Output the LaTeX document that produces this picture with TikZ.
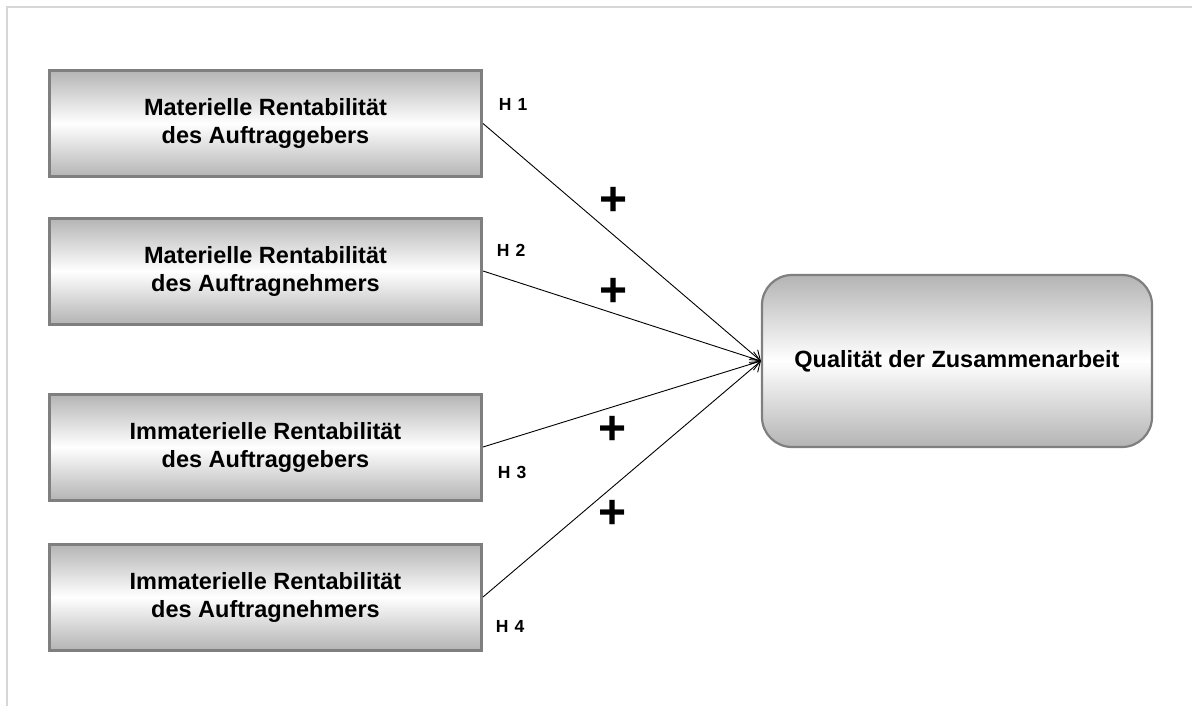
\documentclass[tikz,border=0pt]{standalone}
\usepackage{fontspec}
\setmainfont{Liberation Sans}
\usetikzlibrary{arrows.meta,shapes}

\definecolor{boxline}{HTML}{7F7F7F}
\definecolor{boxshade}{HTML}{B4B4B4}
\definecolor{framegray}{HTML}{D6D6D6}

\tikzset{
  factor/.style={draw=boxline, line width=3pt, top color=boxshade, bottom color=boxshade,
    middle color=white, minimum width=432pt, minimum height=106pt, align=center,
    font=\fontsize{23.5}{28}\selectfont\bfseries},
  outcome/.style={factor, rounded corners=30pt, line width=2.2pt, minimum width=390pt,
    minimum height=172pt},
  hyp/.style={font=\fontsize{17.5}{20}\selectfont\bfseries},
  plusmark/.style={font=\fontsize{48}{48}\selectfont\bfseries},
  link/.style={->, line width=0.9pt, >={Straight Barb[length=9pt,width=13pt,line width=0.9pt]}}
}

\begin{document}
\begin{tikzpicture}[x=1pt,y=-1pt]
\tikzstyle{every node}+=[node distance=147.5pt]
\useasboundingbox (0,0) rectangle (1192,706);
\draw[framegray, line width=2pt] (7,706) -- (7,7) -- (1192,7);

\node[factor] (mat_ag) at (265.5,123.5) {Materielle Rentabilität\\des Auftraggebers};
\node[factor] (mat_an) [below of=mat_ag] {Materielle Rentabilität\\des Auftragnehmers};
\node[factor] (imm_ag) [below of=mat_an,node distance=176pt] {Immaterielle Rentabilität\\des Auftraggebers};
\node[factor] (imm_an) [below of=imm_ag,node distance=150pt] {Immaterielle Rentabilität\\des Auftragnehmers};
\node[outcome] (quality) at (957,361) {Qualität der Zusammenarbeit};

\node[hyp] (h1) at (513,104) {H\hspace{0.35em}1};
\node[hyp] (h2) at (511,250) {H\hspace{0.35em}2};
\node[hyp] (h3) at (512,472) {H\hspace{0.35em}3};
\node[hyp] (h4) at (510,626) {H\hspace{0.35em}4};

\node[plusmark] (p1) at (614,201) {+};
\node[plusmark] (p2) at (614,292) {+};
\node[plusmark] (p3) at (613,430) {+};
\node[plusmark] (p4) at (613,514) {+};

\draw[link] (mat_ag.east) -- (quality.west);
\draw[link] (mat_an.east) -- (quality.west);
\draw[link] (imm_ag.east) -- (quality.west);
\draw[link] (imm_an.east) -- (quality.west);
\end{tikzpicture}
\end{document}
